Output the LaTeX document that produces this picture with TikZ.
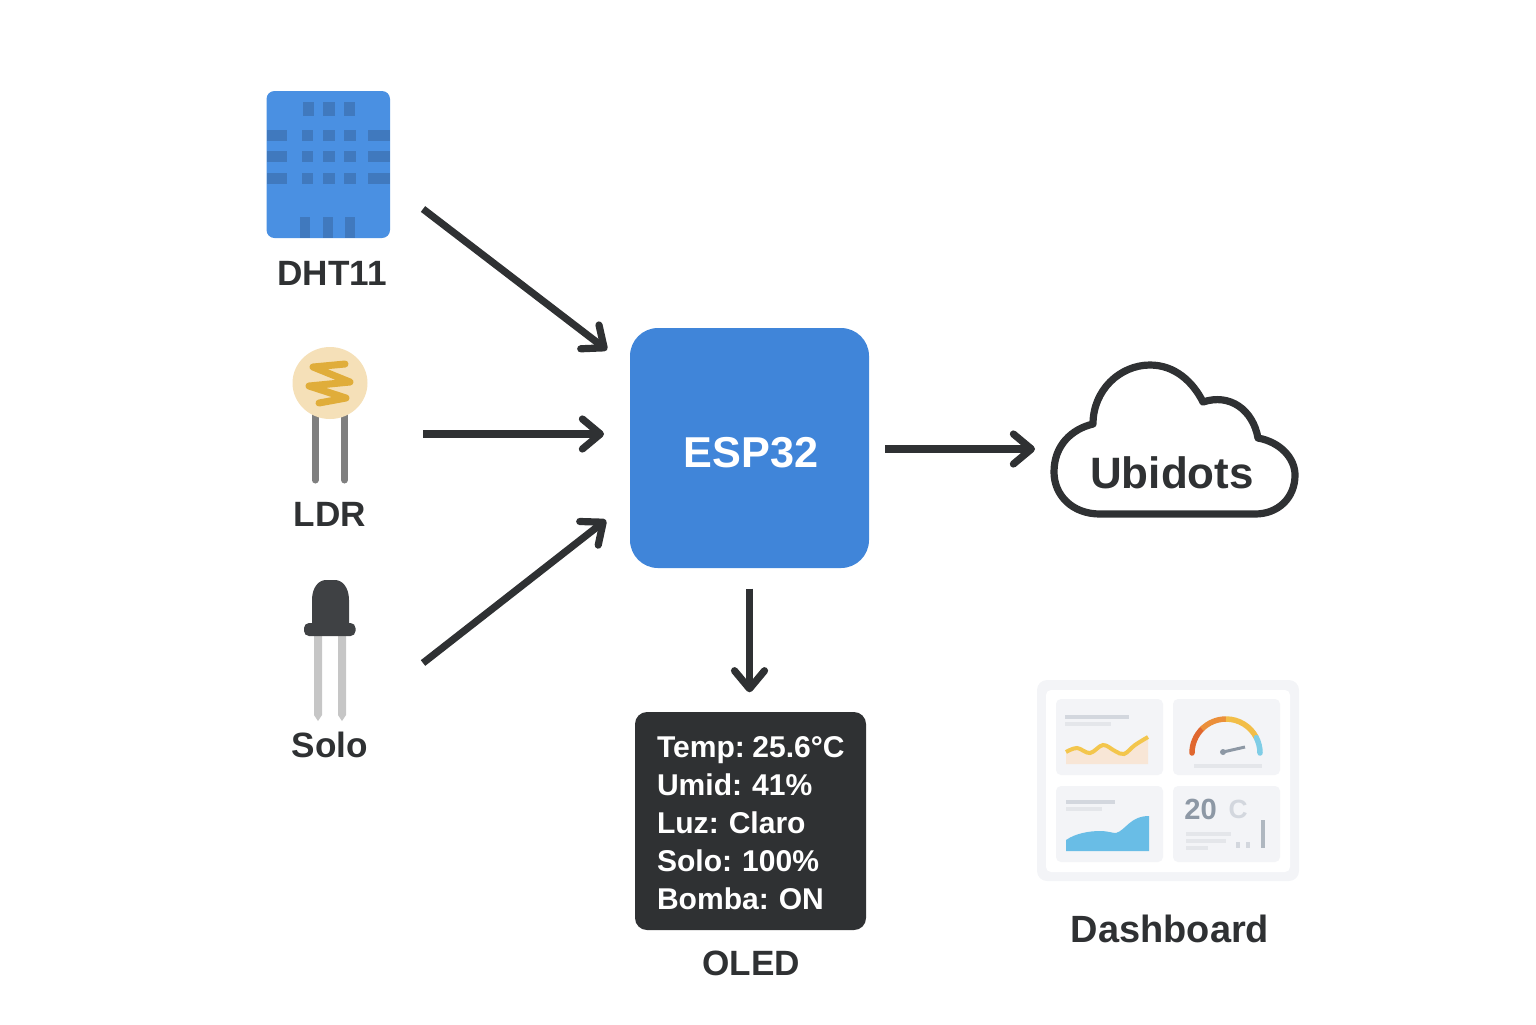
\documentclass[tikz,border=0pt]{standalone}
\usepackage{fontspec}
\setmainfont{Liberation Sans}
\usetikzlibrary{arrows.meta}
\definecolor{darkline}{HTML}{2F3133}
\definecolor{espblue}{HTML}{4085D9}
\definecolor{dhtblue}{HTML}{4A90E2}
\definecolor{dhtdark}{HTML}{4079BE}
\definecolor{ldrskin}{HTML}{F5E0B8}
\definecolor{ldrzig}{HTML}{E0AD3A}
\definecolor{ldrleg}{HTML}{7F7F7F}
\definecolor{solobody}{HTML}{3F4144}
\definecolor{sololeg}{HTML}{C6C6C6}
\definecolor{panelgray}{HTML}{F3F4F7}
\definecolor{barone}{HTML}{D3D7DE}
\definecolor{bartwo}{HTML}{E4E6EA}
\definecolor{waveline}{HTML}{F3C64D}
\definecolor{wavefill}{HTML}{F8E6D6}
\definecolor{areablue}{HTML}{69BDE6}
\definecolor{numgray}{HTML}{8D98A5}
\definecolor{gaugeA}{HTML}{E0672F}
\definecolor{gaugeB}{HTML}{EB8F3A}
\definecolor{gaugeC}{HTML}{F2BE48}
\definecolor{gaugeD}{HTML}{7FCDE6}
\tikzset{
  flow/.style={line width=0.072cm, draw=darkline, -{Straight Barb[round,length=0.18cm,width=0.30cm]}},
  tag/.style={font=\bfseries\fontsize{10}{12}\selectfont, text=darkline, inner sep=0pt},
  card/.style={fill=panelgray, rounded corners=0.05cm},
  hole/.style={fill=dhtdark},
  barA/.style={line width=0.035cm, draw=barone},
  barB/.style={line width=0.035cm, draw=bartwo}
}
\begin{document}
\frenchspacing
\begin{tikzpicture}[x=1cm,y=-1cm]
  \useasboundingbox (0,0) rectangle (15.36,10.24);

  %% dht11
  \fill[dhtblue, rounded corners=0.08cm] (2.665,0.91) rectangle (3.90,2.38);
  \fill[hole] (3.03,1.02) rectangle (3.14,1.16);
  \fill[hole] (3.23,1.02) rectangle (3.35,1.16);
  \fill[hole] (3.44,1.02) rectangle (3.55,1.16);
  \fill[hole] (2.67,1.30) rectangle (2.87,1.41);
  \fill[hole] (3.02,1.30) rectangle (3.13,1.41);
  \fill[hole] (3.23,1.30) rectangle (3.35,1.41);
  \fill[hole] (3.44,1.30) rectangle (3.56,1.41);
  \fill[hole] (3.68,1.30) rectangle (3.90,1.41);
  \fill[hole] (2.67,1.51) rectangle (2.87,1.62);
  \fill[hole] (3.02,1.51) rectangle (3.13,1.62);
  \fill[hole] (3.23,1.51) rectangle (3.35,1.62);
  \fill[hole] (3.44,1.51) rectangle (3.56,1.62);
  \fill[hole] (3.68,1.51) rectangle (3.90,1.62);
  \fill[hole] (2.67,1.73) rectangle (2.87,1.84);
  \fill[hole] (3.02,1.73) rectangle (3.13,1.84);
  \fill[hole] (3.23,1.73) rectangle (3.35,1.84);
  \fill[hole] (3.44,1.73) rectangle (3.56,1.84);
  \fill[hole] (3.68,1.73) rectangle (3.90,1.84);
  \fill[hole] (3.00,2.17) rectangle (3.10,2.375);
  \fill[hole] (3.23,2.17) rectangle (3.33,2.375);
  \fill[hole] (3.45,2.17) rectangle (3.55,2.375);
  \node[tag] (dhtlabel) at (3.32,2.73) {DHT11};

  %% ldr
  \draw[ldrleg, line width=0.07cm, line cap=round] (3.15,4.10) -- (3.15,4.80);
  \draw[ldrleg, line width=0.07cm, line cap=round] (3.445,4.10) -- (3.445,4.80);
  \fill[ldrskin] (3.30,3.83) ellipse (0.375 and 0.36);
  \draw[ldrzig, line width=0.07cm, line cap=round, line join=round]
    (3.45,3.64) -- (3.13,3.67) -- (3.50,3.82) -- (3.09,3.86) -- (3.46,3.98) -- (3.19,4.03);
  \node[tag] (ldrlabel) at (3.30,5.14) {LDR};

  %% solo
  \fill[sololeg] (3.14,6.30) -- (3.22,6.30) -- (3.22,7.15) -- (3.18,7.21) -- (3.14,7.15) -- cycle;
  \fill[sololeg] (3.38,6.30) -- (3.46,6.30) -- (3.46,7.15) -- (3.42,7.21) -- (3.38,7.15) -- cycle;
  \fill[solobody] (3.12,6.30) -- (3.12,6.00) .. controls (3.12,5.87) and (3.19,5.80) .. (3.26,5.80)
    -- (3.35,5.80) .. controls (3.42,5.80) and (3.49,5.87) .. (3.49,6.00) -- (3.49,6.30) -- cycle;
  \fill[solobody, rounded corners=0.05cm] (3.04,6.23) rectangle (3.555,6.36);
  \node[tag] (sololabel) at (3.30,7.45) {Solo};

  %% esp32
  \node[fill=espblue, minimum width=2.39cm, minimum height=2.40cm, rounded corners=0.28cm,
    inner sep=0pt] (esp) at (7.495,4.48) {};
  \node[text=white, inner sep=0pt, font=\bfseries\fontsize{12.3}{14}\selectfont] (esplabel) at (7.51,4.53) {ESP32};

  %% oled
  \node[fill=darkline, minimum width=2.31cm, minimum height=2.18cm, rounded corners=0.12cm,
    inner sep=0pt] (oled) at (7.505,8.21) {};
  \node[inner sep=0pt, text width=2.0cm, align=left, text=white,
    font=\bfseries\fontsize{8.55}{10.8}\selectfont] (oledtext) at (7.57,8.23)
    {Temp:\hspace{0.25em}25.6°C\\Umid: 41\%\\Luz: Claro\\Solo: 100\%\\Bomba: ON};
  \node[tag] (oledlabel) at (7.51,9.63) {OLED};

  %% ubidots
  \draw[darkline, line width=0.072cm, line join=round] (11.00,5.14)
    .. controls (10.72,5.14) and (10.54,4.95) .. (10.54,4.72)
    .. controls (10.54,4.45) and (10.72,4.29) .. (10.93,4.24)
    .. controls (10.93,3.90) and (11.20,3.65) .. (11.50,3.65)
    .. controls (11.75,3.65) and (11.93,3.82) .. (12.03,4.02)
    .. controls (12.30,3.93) and (12.53,4.10) .. (12.58,4.38)
    .. controls (12.80,4.42) and (12.95,4.58) .. (12.95,4.75)
    .. controls (12.95,4.98) and (12.78,5.14) .. (12.55,5.14) -- cycle;
  \node[inner sep=0pt, text=darkline, font=\bfseries\fontsize{12.5}{14}\selectfont] (cloud) at (11.72,4.73) {Ubidots};

  %% dashboard
  \fill[panelgray, rounded corners=0.10cm] (10.37,6.80) rectangle (12.99,8.81);
  \fill[white, rounded corners=0.05cm] (10.46,6.90) rectangle (12.90,8.72);
  \fill[card] (10.56,6.99) rectangle (11.63,7.75);
  \fill[card] (11.73,6.99) rectangle (12.80,7.75);
  \fill[card] (10.56,7.86) rectangle (11.63,8.62);
  \fill[card] (11.73,7.86) rectangle (12.80,8.62);
  \draw[barA] (10.65,7.17) -- (11.29,7.17);
  \draw[barB] (10.65,7.24) -- (11.11,7.24);
  \fill[wavefill] plot[smooth, tension=0.6] coordinates {(10.66,7.52) (10.77,7.48) (10.90,7.53) (11.03,7.45) (11.15,7.51) (11.24,7.54) (11.35,7.45) (11.48,7.37)}
    -- (11.48,7.64) -- (10.66,7.64) -- cycle;
  \draw[waveline, line width=0.04cm] plot[smooth, tension=0.6] coordinates {(10.66,7.52) (10.77,7.48) (10.90,7.53) (11.03,7.45) (11.15,7.51) (11.24,7.54) (11.35,7.45) (11.48,7.37)};
  \draw[gaugeA, line width=0.055cm, line cap=round] (11.92,7.53) arc (180:135:0.34 and -0.34);
  \draw[gaugeB, line width=0.055cm] (12.26,7.53) ++(135:0.34 and -0.34) arc (135:90:0.34 and -0.34);
  \draw[gaugeC, line width=0.055cm] (12.26,7.53) ++(90:0.34 and -0.34) arc (90:27:0.34 and -0.34);
  \draw[gaugeD, line width=0.055cm, line cap=round] (12.26,7.53) ++(27:0.34 and -0.34) arc (27:0:0.34 and -0.34);
  \draw[numgray, line width=0.03cm] (12.23,7.52) -- (12.45,7.47);
  \fill[numgray] (12.23,7.52) circle (0.03);
  \draw[barB] (11.94,7.66) -- (12.62,7.66);
  \draw[barA] (10.66,8.02) -- (11.15,8.02);
  \draw[barB] (10.66,8.09) -- (11.02,8.09);
  \fill[areablue] (10.66,8.51) -- (10.66,8.40) .. controls (10.76,8.33) and (10.90,8.31) .. (11.00,8.31)
    .. controls (11.08,8.31) and (11.12,8.33) .. (11.16,8.33)
    .. controls (11.26,8.30) and (11.30,8.16) .. (11.49,8.16) -- (11.49,8.51) -- cycle;
  \node[inner sep=0pt, text=numgray, font=\bfseries\fontsize{8.3}{10}\selectfont] (numlabel) at (12.005,8.09) {20};
  \node[inner sep=0pt, text=barone, font=\bfseries\fontsize{7.5}{10}\selectfont] (unitlabel) at (12.38,8.09) {C};
  \draw[barB] (11.86,8.34) -- (12.31,8.34);
  \draw[barB] (11.86,8.41) -- (12.26,8.41);
  \draw[barB] (11.86,8.48) -- (12.08,8.48);
  \draw[barA, line width=0.04cm] (12.375,8.42) -- (12.375,8.48);
  \draw[barA, line width=0.04cm] (12.48,8.42) -- (12.48,8.48);
  \draw[numgray!70, line width=0.035cm] (12.63,8.20) -- (12.63,8.48);
  \node[tag, font=\bfseries\fontsize{10.8}{12}\selectfont] (dashlabel) at (11.70,9.29) {Dashboard};

  %% arrows
  \coordinate (dhtout) at (4.23,2.09);
  \coordinate (ldrout) at (4.23,4.34);
  \coordinate (soloout) at (4.23,6.63);
  \coordinate (espinA) at (6.07,3.50);
  \coordinate (espinB) at (6.04,4.34);
  \coordinate (espinC) at (6.06,5.20);
  \coordinate (espout) at (8.85,4.49);
  \coordinate (cloudin) at (10.35,4.49);
  \draw[flow] (dhtout) -- (espinA);
  \draw[flow] (ldrout) -- (espinB);
  \draw[flow] (soloout) -- (espinC);
  \draw[flow] (espout) -- (cloudin);
  \draw[flow, shorten <=0.20cm, shorten >=0.19cm] (esp.south) -- (esp.south |- oled.north);
\end{tikzpicture}
\end{document}
